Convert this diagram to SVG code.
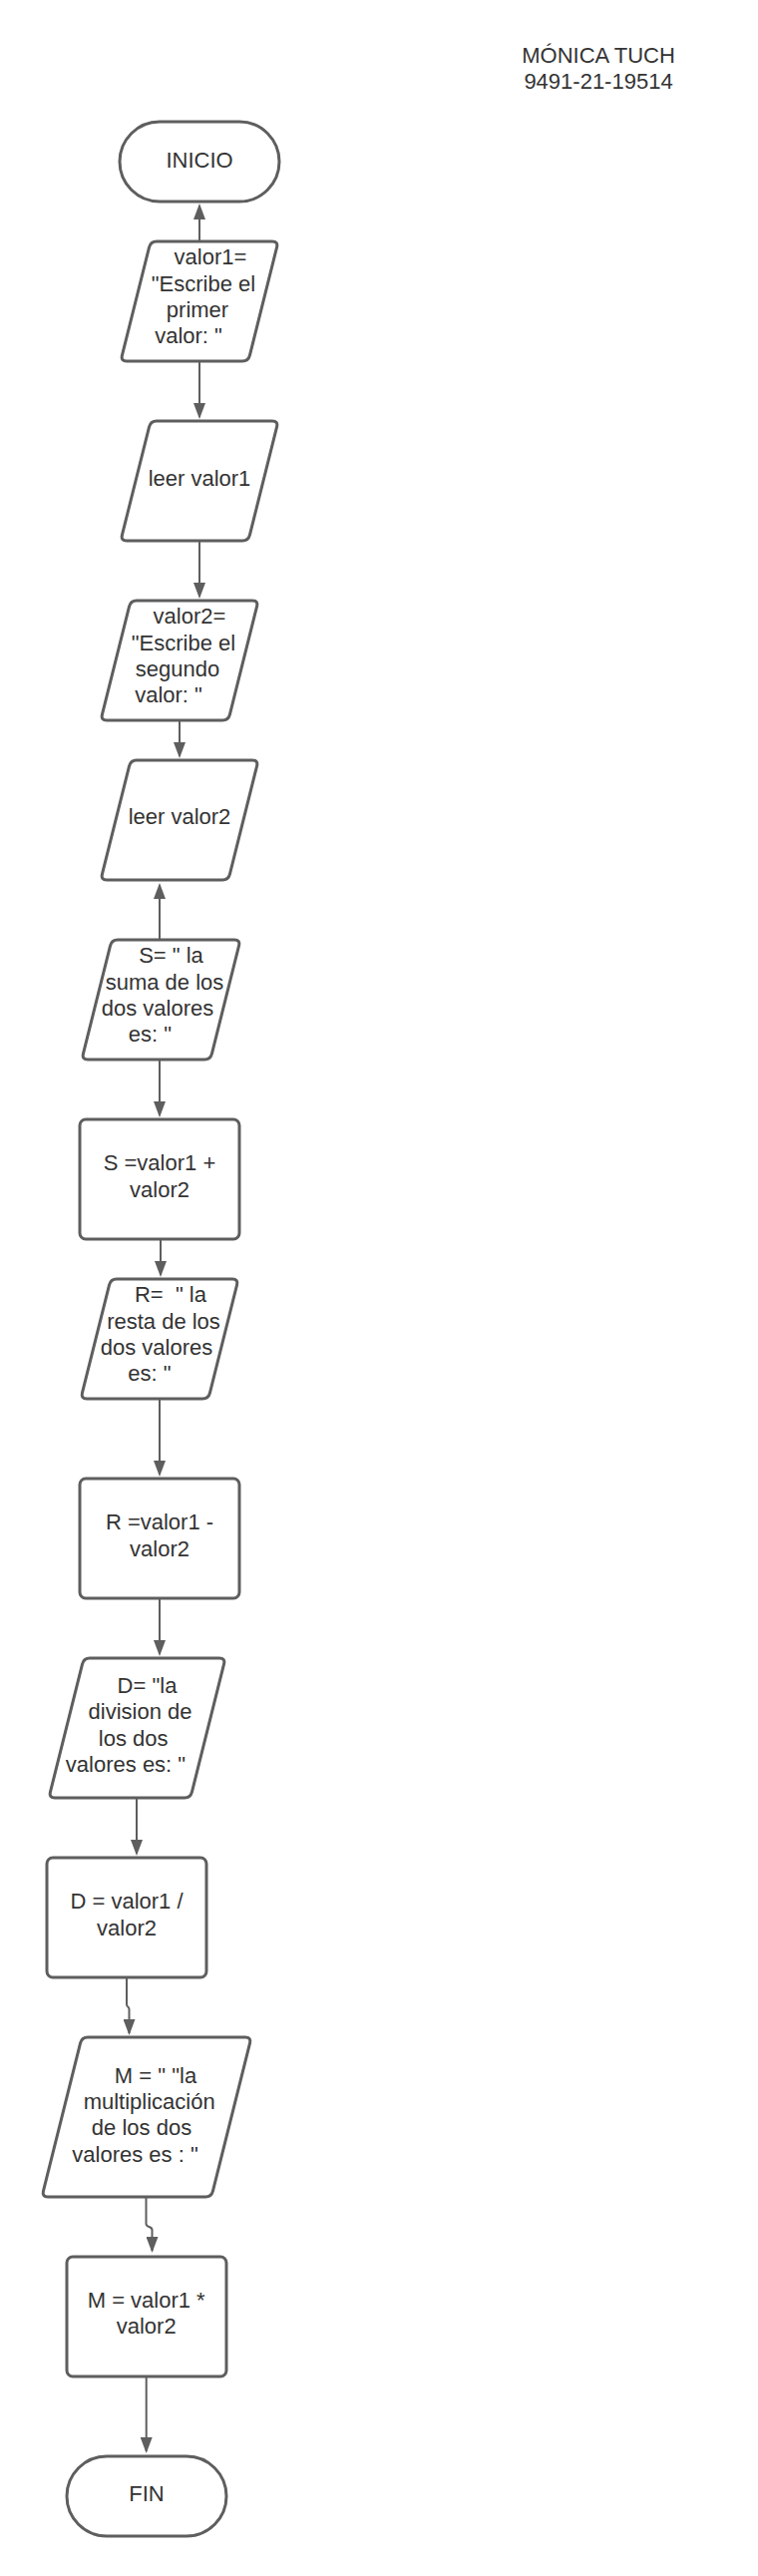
<svg xmlns="http://www.w3.org/2000/svg" width="760" height="2582" viewBox="0 0 760 2582">
<style>
.sh{fill:#ffffff;stroke:#5e5e5e;stroke-width:3;stroke-linejoin:round}
.t{font-family:"Liberation Sans",Arial,sans-serif;font-size:22px;fill:#333333;text-anchor:middle}
.c{fill:none;stroke:#5e5e5e;stroke-width:2}
</style>
<defs>
<marker id="ah" markerUnits="userSpaceOnUse" viewBox="0 0 16 12" markerWidth="16" markerHeight="12" refX="14" refY="6" orient="auto">
<path d="M0,0 L16,6 L0,12 Z" fill="#5e5e5e"/>
</marker>
</defs>
<rect width="760" height="2582" fill="#ffffff"/>
<g id="title">
<text class="t" x="600" y="63.3">MÓNICA TUCH</text>
<text class="t" x="600" y="89.3">9491-21-19514</text>
</g>
<g id="connectors">
<path class="c" marker-end="url(#ah)" d="M200,242 L200,206"/>
<path class="c" marker-end="url(#ah)" d="M200,362 L200,418"/>
<path class="c" marker-end="url(#ah)" d="M200,542 L200,598"/>
<path class="c" marker-end="url(#ah)" d="M180,722 L180,758"/>
<path class="c" marker-end="url(#ah)" d="M160,942 L160,887"/>
<path class="c" marker-end="url(#ah)" d="M160,1062 L160,1118"/>
<path class="c" marker-end="url(#ah)" d="M161,1242 L161,1278"/>
<path class="c" marker-end="url(#ah)" d="M160,1402 L160,1478"/>
<path class="c" marker-end="url(#ah)" d="M160,1602 L160,1658"/>
<path class="c" marker-end="url(#ah)" d="M137,1802 L137,1858"/>
<path class="c" marker-end="url(#ah)" d="M127,1982 L127,2009 C127,2012 129.5,2011 129.5,2014 L129.5,2038"/>
<path class="c" marker-end="url(#ah)" d="M146.5,2202 L146.5,2229 C146.5,2233 152.5,2231 152.5,2235 L152.5,2256"/>
<path class="c" marker-end="url(#ah)" d="M146.7,2382 L146.7,2457"/>
</g>
<g id="inicio">
<rect class="sh" x="120" y="122" width="160" height="80" rx="40" ry="40"/>
<text class="t" x="200" y="167.5">INICIO</text>
</g>
<g id="valor1-msg">
<path class="sh" d="M157,242 L273,242 Q279,242 277.55,247.82 L250.45,356.18 Q249,362 243,362 L127,362 Q121,362 122.45,356.18 L149.55,247.82 Q151,242 157,242 Z"/>
<text class="t" x="211" y="265">valor1=</text>
<text class="t" x="204" y="291.5">"Escribe el</text>
<text class="t" x="198" y="318">primer</text>
<text class="t" x="189" y="344.3">valor: "</text>
</g>
<g id="leer-valor1">
<path class="sh" d="M157,422 L273,422 Q279,422 277.55,427.82 L250.45,536.18 Q249,542 243,542 L127,542 Q121,542 122.45,536.18 L149.55,427.82 Q151,422 157,422 Z"/>
<text class="t" x="200" y="486.5">leer valor1</text>
</g>
<g id="valor2-msg">
<path class="sh" d="M137,602 L253,602 Q259,602 257.55,607.82 L230.45,716.18 Q229,722 223,722 L107,722 Q101,722 102.45,716.18 L129.55,607.82 Q131,602 137,602 Z"/>
<text class="t" x="190" y="625">valor2=</text>
<text class="t" x="184" y="651.5">"Escribe el</text>
<text class="t" x="178" y="678">segundo</text>
<text class="t" x="169" y="704">valor: "</text>
</g>
<g id="leer-valor2">
<path class="sh" d="M137,762 L253,762 Q259,762 257.55,767.82 L230.45,876.18 Q229,882 223,882 L107,882 Q101,882 102.45,876.18 L129.55,767.82 Q131,762 137,762 Z"/>
<text class="t" x="180" y="826">leer valor2</text>
</g>
<g id="s-msg">
<path class="sh" d="M118,942 L235,942 Q241,942 239.55,947.82 L212.45,1056.18 Q211,1062 205,1062 L88,1062 Q82,1062 83.45,1056.18 L110.55,947.82 Q112,942 118,942 Z"/>
<text class="t" x="171.5" y="965">S= " la</text>
<text class="t" x="165" y="991.5">suma de los</text>
<text class="t" x="158" y="1018">dos valores</text>
<text class="t" x="150.5" y="1044.3">es: "</text>
</g>
<g id="s-calc">
<rect class="sh" x="80" y="1122" width="160" height="120" rx="6" ry="6"/>
<text class="t" x="160" y="1173">S =valor1 +</text>
<text class="t" x="160" y="1199.5">valor2</text>
</g>
<g id="r-msg">
<path class="sh" d="M117,1282 L233,1282 Q239,1282 237.55,1287.82 L210.45,1396.18 Q209,1402 203,1402 L87,1402 Q81,1402 82.45,1396.18 L109.55,1287.82 Q111,1282 117,1282 Z"/>
<text class="t" x="171" y="1305" xml:space="preserve">R=  " la</text>
<text class="t" x="164" y="1331.5">resta de los</text>
<text class="t" x="157" y="1358">dos valores</text>
<text class="t" x="150" y="1384.3">es: "</text>
</g>
<g id="r-calc">
<rect class="sh" x="80" y="1482" width="160" height="120" rx="6" ry="6"/>
<text class="t" x="160" y="1533.3">R =valor1 -</text>
<text class="t" x="160" y="1559.5">valor2</text>
</g>
<g id="d-msg">
<path class="sh" d="M90,1662 L220,1662 Q226,1662 224.55,1667.82 L192.45,1796.18 Q191,1802 185,1802 L55,1802 Q49,1802 50.45,1796.18 L82.55,1667.82 Q84,1662 90,1662 Z"/>
<text class="t" x="147.5" y="1696.7">D= "la</text>
<text class="t" x="140.5" y="1723.2">division de</text>
<text class="t" x="133.7" y="1749.6">los dos</text>
<text class="t" x="126" y="1776">valores es: "</text>
</g>
<g id="d-calc">
<rect class="sh" x="47" y="1862" width="160" height="120" rx="6" ry="6"/>
<text class="t" x="127" y="1913.3">D = valor1 /</text>
<text class="t" x="127" y="1939.6">valor2</text>
</g>
<g id="m-msg">
<path class="sh" d="M88,2042 L246,2042 Q252,2042 250.55,2047.82 L213.45,2196.18 Q212,2202 206,2202 L48,2202 Q42,2202 43.45,2196.18 L80.55,2047.82 Q82,2042 88,2042 Z"/>
<text class="t" x="156" y="2087.5">M = " "la</text>
<text class="t" x="149.7" y="2114">multiplicación</text>
<text class="t" x="142" y="2140.3">de los dos</text>
<text class="t" x="135.5" y="2166.7">valores es : "</text>
</g>
<g id="m-calc">
<rect class="sh" x="67" y="2262" width="160" height="120" rx="6" ry="6"/>
<text class="t" x="146.7" y="2312.7">M = valor1 *</text>
<text class="t" x="146.7" y="2339.2">valor2</text>
</g>
<g id="fin">
<rect class="sh" x="67" y="2462" width="160" height="80" rx="40" ry="40"/>
<text class="t" x="147" y="2506.7">FIN</text>
</g>
</svg>
